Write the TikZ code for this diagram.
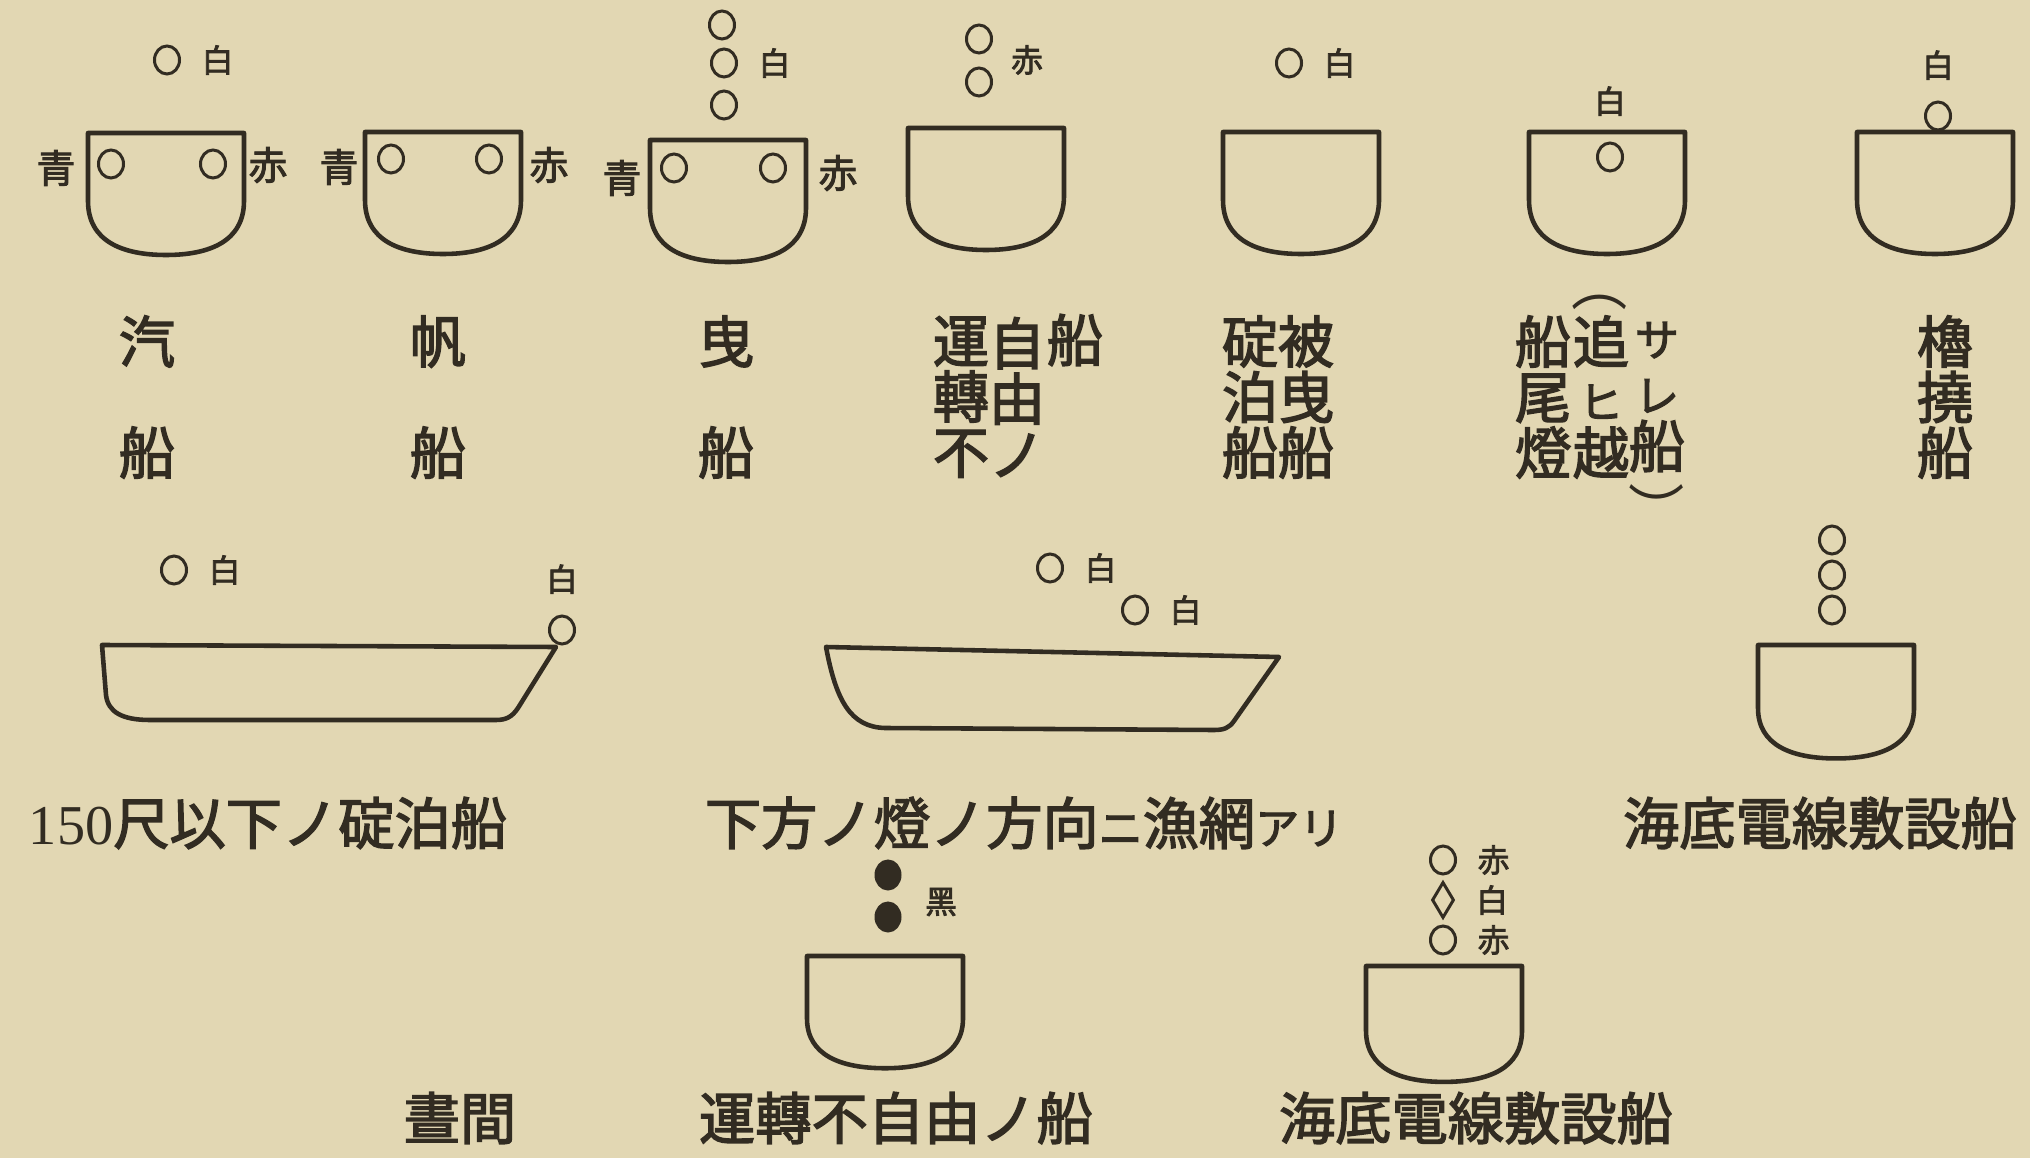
\documentclass[tikz,border=0pt]{standalone}
\usepackage{fontspec}
\newfontfamily\jp{Noto Sans CJK JP}[FakeBold=2.5]
\newfontfamily\jpthin{Noto Sans CJK JP}
\newfontfamily\lat{Liberation Serif}
\usepackage{tikz}
\usetikzlibrary{positioning, shapes.geometric}

\definecolor{paper}{RGB}{226,215,179}
\definecolor{ink}{RGB}{50,44,34}

% smaller kana inside a caption or a column
\newcommand{\kn}[1]{{\fontsize{12.5}{15.8}\selectfont #1}}

\begin{document}
\begin{tikzpicture}[
    x=0.01cm, y=-0.01cm,
    node distance=0.2cm,
    hull/.style={draw=ink, line width=1.3pt, line join=round},
    lamp/.style={ellipse, draw=ink, line width=0.85pt, inner sep=0pt, minimum width=0.25cm, minimum height=0.28cm},
    blk/.style={lamp, fill=ink, minimum width=0.24cm, minimum height=0.28cm},
    rhomb/.style={diamond, draw=ink, line width=0.85pt, inner sep=0pt, minimum width=0.22cm, minimum height=0.36cm},
    tag/.style={text=ink, inner sep=0pt, font=\jp\fontsize{9}{9}\selectfont},
    side/.style={text=ink, inner sep=0pt, font=\jp\fontsize{11}{11}\selectfont},
    col/.style={text=ink, inner sep=0pt, align=center, font=\jp\fontsize{16}{15.8}\selectfont},
    caption/.style={text=ink, inner sep=0pt, font=\jp\fontsize{16}{16}\selectfont},
    shield/.pic={\draw[hull] (-78,0) -- (-78,68) .. controls (-78,108) and (-44,122) .. (0,122) .. controls (44,122) and (78,108) .. (78,68) -- (78,0) -- cycle;}
]

\useasboundingbox (0,0) rectangle (2030,1158);
\fill[paper] (0,0) rectangle (2030,1158);

% --- top row, seen from ahead ---
% steam vessel
\pic at (166,133) {shield};
\node[lamp] (s1top) at (167,60) {};
\node[tag, right=of s1top] (s1w) {白};
\node[lamp] (s1g) at (111,164) {};
\node[lamp] (s1r) at (213,164) {};
\node[side] (s1gl) at (56,168) {青};
\node[side] (s1rl) at (268,165) {赤};

% sailing vessel
\pic at (443,132) {shield};
\node[lamp] (s2g) at (391,159) {};
\node[lamp] (s2r) at (489,159) {};
\node[side] (s2gl) at (339,167) {青};
\node[side] (s2rl) at (549,165) {赤};

% towing vessel
\pic at (728,140) {shield};
\node[lamp] (s3a) at (722,25) {};
\node[lamp] (s3b) at (724,63) {};
\node[lamp] (s3c) at (724,105) {};
\node[tag, right=of s3b] (s3w) {白};
\node[lamp] (s3g) at (674,168) {};
\node[lamp] (s3r) at (773,168) {};
\node[side] (s3gl) at (622,178) {青};
\node[side] (s3rl) at (838,173) {赤};

% not under command
\pic at (986,128) {shield};
\node[lamp] (s4a) at (979,39) {};
\node[lamp] (s4b) at (979,82) {};
\node[tag] (s4t) at (1027,60) {赤};

% towed / at anchor
\pic at (1301,132) {shield};
\node[lamp] (s5a) at (1289,63) {};
\node[tag, right=of s5a] (s5w) {白};

% overtaken
\pic at (1607,132) {shield};
\node[lamp] (s6a) at (1610,157) {};
\node[tag, above=0.25cm of s6a] (s6w) {白};

% rowing boat
\pic at (1935,132) {shield};
\node[lamp] (s7a) at (1938,116) {};
\node[tag, above=of s7a] (s7w) {白};

% vertical names under the top row
\node[col] (c1) at (147,397) {汽\\[15.8pt]船};
\node[col] (c2) at (438,397) {帆\\[15.8pt]船};
\node[col] (c3) at (726,397) {曳\\[15.8pt]船};
\node[col] (c4a) at (961,397) {運\\轉\\不};
\node[col] (c4b) at (1017,397) {自\\由\\ノ};
\node[col] (c4c) at (1075,340) {船};
\node[col] (c5a) at (1250,397) {碇\\泊\\船};
\node[col] (c5b) at (1306,397) {被\\曳\\船};
\node[col] (c6a) at (1543,397) {船\\尾\\燈};
\node[col] (c6b) at (1601,397) {追\\\kn{ヒ}\\越};
\node[col] (c6c) at (1657,397) {\kn{サ}\\\kn{レ}\\船};
\node[col, font=\jpthin\fontsize{16}{16}\selectfont] (c6o) at (1600,302) {︵};
\node[col, font=\jpthin\fontsize{16}{16}\selectfont] (c6e) at (1657,508) {︶};
\node[col] (c7) at (1945,397) {櫓\\撓\\船};

% --- middle row ---
% anchored, under 150 feet
\node[lamp] (a1) at (174,570) {};
\node[tag, right=of a1] (a1w) {白};
\draw[hull] (102,645) -- (556,647) -- (518,708) .. controls (512,717) and (506,720) .. (496,720)
    -- (150,720) .. controls (122,720) and (108,712) .. (106,695) -- cycle;
\node[lamp] (a2) at (562,630) {};
\node[tag, above=of a2] (a2w) {白};
\node[caption] (k1) at (268,823) {{\lat 150}尺以下ノ碇泊船};

% fishing with nets out
\node[lamp] (f1) at (1050,568) {};
\node[tag, right=of f1] (f1w) {白};
\node[lamp] (f2) at (1135,610) {};
\node[tag, right=of f2] (f2w) {白};
\draw[hull] (826,647) -- (1279,657) -- (1234,721) .. controls (1229,728) and (1224,730) .. (1214,730)
    -- (885,728) .. controls (850,727) and (836,700) .. (826,647) -- cycle;
\node[caption] (k2) at (1024,823) {下方ノ燈ノ方向\kn{ニ}漁網\kn{アリ}};

% cable ship, night
\node[lamp] (t1) at (1832,540) {};
\node[lamp] (t2) at (1832,575) {};
\node[lamp] (t3) at (1832,610) {};
\pic[yscale=0.93] at (1836,645) {shield};
\node[caption] (k3) at (1820,823) {海底電線敷設船};

% --- bottom row, by day ---
\node[caption] (k4) at (460,1118) {晝間};

\node[blk] (d1) at (888,875) {};
\node[blk] (d2) at (888,917) {};
\node[tag] (d1t) at (941,902) {黑};
\pic[yscale=0.92] at (885,956) {shield};
\node[caption] (k5) at (896,1118) {運轉不自由ノ船};

\node[lamp] (e1) at (1443,860) {};
\node[rhomb] (e2) at (1443,900) {};
\node[lamp] (e3) at (1443,940) {};
\node[tag, right=of e1] (e1t) {赤};
\node[tag, right=of e2] (e2t) {白};
\node[tag, right=of e3] (e3t) {赤};
\pic[yscale=0.95] at (1444,966) {shield};
\node[caption] (k6) at (1476,1118) {海底電線敷設船};

\end{tikzpicture}
\end{document}
